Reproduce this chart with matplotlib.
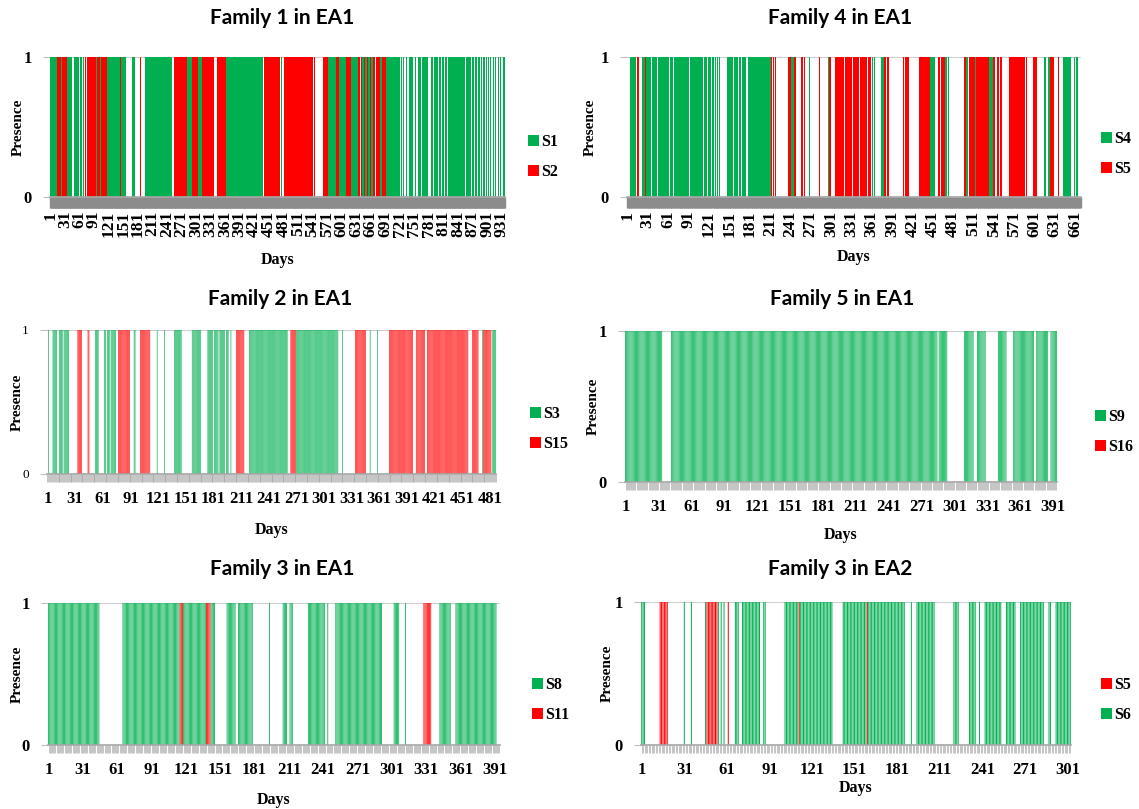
import matplotlib
matplotlib.use("Agg")
import matplotlib.pyplot as plt
from matplotlib.patches import Patch

GREEN = "#00b050"
RED = "#ff0000"
SERIF = "Liberation Serif"

# days (first, last) on which each strain was present

# Family 1 in EA1
f1_days = 937
f1_s1 = [(1, 14), (23, 24), (36, 46), (50, 53), (55, 60), (62, 66), (68, 70), (96, 97),
         (103, 105), (118, 144), (147, 156), (170, 172), (175, 176), (197, 252), (283, 293),
         (305, 312), (364, 380), (383, 438), (476, 478), (574, 588), (597, 610), (620, 626),
         (628, 634), (644, 646), (650, 652), (655, 660), (663, 666), (681, 684), (692, 720),
         (723, 724), (727, 728), (734, 735), (741, 747), (752, 753), (758, 765), (767, 772),
         (774, 779), (786, 789), (791, 794), (796, 800), (802, 806), (808, 812), (814, 818),
         (820, 855), (857, 862), (864, 868), (870, 874), (876, 880), (882, 885), (888, 890),
         (893, 895), (898, 900), (903, 905), (908, 909), (913, 914), (918, 919), (923, 924),
         (928, 929), (933, 936)]
f1_s2 = [(16, 22), (25, 35), (74, 75), (78, 90), (92, 95), (98, 102), (106, 117), (145, 146),
         (186, 187), (256, 282), (293, 304), (313, 337), (344, 363), (381, 382), (442, 474),
         (482, 541), (545, 546), (564, 573), (589, 596), (611, 619), (636, 638), (641, 643),
         (647, 649), (653, 654), (661, 662), (667, 669), (672, 680), (685, 691)]

# Family 4 in EA1
f4_days = 669
f4_s4 = [(5, 13), (23, 27), (29, 32), (34, 36), (38, 44), (46, 54), (56, 62), (64, 68),
         (70, 76), (78, 82), (84, 92), (94, 98), (100, 104), (106, 112), (114, 118), (120, 124),
         (126, 128), (130, 131), (133, 134), (136, 137), (148, 156), (158, 164), (166, 168),
         (170, 175), (180, 212), (243, 246), (269, 269), (297, 298), (362, 363), (365, 365),
         (376, 378), (447, 454), (470, 471), (474, 475), (501, 503), (514, 514), (535, 536),
         (538, 539), (616, 617), (621, 624), (643, 654), (659, 660), (663, 664)]
f4_s5 = [(16, 17), (28, 28), (55, 55), (213, 214), (216, 217), (219, 220), (238, 241),
         (247, 249), (258, 259), (262, 263), (284, 285), (299, 300), (307, 312), (314, 320),
         (322, 332), (334, 342), (344, 354), (356, 360), (380, 382), (384, 386), (407, 408),
         (411, 412), (414, 415), (432, 446), (459, 461), (463, 465), (467, 468), (498, 500),
         (505, 513), (515, 534), (541, 543), (546, 548), (551, 553), (564, 587), (589, 590),
         (599, 604), (625, 629), (636, 637)]

# Family 2 in EA1
f2_days = 487
f2_s3 = [(2, 2), (7, 9), (10, 11), (14, 15), (16, 17), (19, 20), (21, 22), (23, 24), (53, 56),
         (63, 64), (66, 68), (70, 72), (73, 75), (95, 96), (120, 120), (128, 128), (139, 146),
         (158, 167), (175, 180), (182, 186), (188, 193), (195, 197), (200, 200), (220, 261),
         (271, 316), (321, 321), (351, 351), (359, 359), (473, 473), (484, 487)]
f2_s15 = [(34, 38), (45, 46), (78, 90), (102, 112), (206, 214), (265, 270), (335, 346),
          (372, 397), (401, 410), (413, 457), (462, 468), (474, 482)]

# Family 5 in EA1
f5_days = 394
f5_s9 = [(1, 34), (43, 285), (287, 294), (310, 318), (322, 329), (341, 348), (355, 373),
         (376, 386), (389, 394)]
f5_s16 = []

# Family 3 in EA1
f3_days = 395
f3_s8 = [(1, 45), (66, 115), (119, 138), (143, 146), (157, 164), (167, 179), (194, 194),
         (206, 209), (212, 214), (228, 242), (245, 245), (252, 292), (303, 307), (313, 313),
         (343, 352), (357, 392)]
f3_s11 = [(116, 118), (139, 142), (329, 335)]

# Family 3 in EA2
g3_days = 303
g3_s5 = [(14, 19), (47, 54), (62, 62), (112, 112), (160, 160)]
g3_s6 = [(1, 3), (31, 31), (36, 36), (46, 46), (55, 55), (57, 57), (59, 59), (67, 69),
         (72, 84), (87, 88), (102, 111), (113, 135), (143, 159), (161, 186), (191, 191),
         (195, 207), (221, 224), (232, 236), (239, 239), (243, 254), (258, 264), (268, 284),
         (288, 289), (293, 303)]

W, H = 1139, 809
fig = plt.figure(figsize=(W / 100, H / 100), dpi=100)


def fx(x):
    return x / W


def fy(y):
    return 1 - y / H


def expand(runs):
    out = []
    for a, b in runs:
        out.extend(range(a, b + 1))
    return out


def panel(box, n_days, series, names, colors, title, title_xy, rot, bar_w,
          leg_xy, pres_x, days_y, dense, ysize, ybold):
    l, r, t, b = box
    ax = fig.add_axes([fx(l), fy(b), fx(r - l), (b - t) / H])
    for runs, c in zip(series, colors):
        d = expand(runs)
        if d:
            bars = ax.bar(d, [1] * len(d), width=bar_w, color=c, linewidth=0, zorder=2)
            if not dense:
                # thin daily bars: let them blend like the original's light stripes
                for p in bars:
                    p.set_snap(False)
    ax.axhline(1, color="#cfcfcf", lw=1.5, zorder=1)
    ax.set_xlim(0.5, n_days + 0.5)
    ax.set_ylim(0, 1)
    for s in ["left", "top", "right"]:
        ax.spines[s].set_visible(False)
    ax.spines["bottom"].set_color("#a6a6a6")
    ax.spines["bottom"].set_linewidth(1.2)

    ax.set_yticks([0, 1])
    ax.set_yticklabels(["0", "1"], fontfamily=SERIF, fontsize=ysize,
                       fontweight="bold" if ybold else "normal")
    ax.tick_params(axis="y", length=5, color="#bfbfbf", pad=8)

    ticks = list(range(1, n_days + 1, 30))
    ax.set_xticks(ticks)
    ax.set_xticks(range(1, n_days + 1), minor=True)
    ax.set_xticklabels([str(v) for v in ticks], rotation=rot, fontfamily=SERIF,
                       fontsize=12.5 if dense else 12, fontweight="bold")
    if dense:
        ax.tick_params(axis="x", which="both", length=8, width=1.0, color="#8c8c8c", pad=2)
    else:
        ax.tick_params(axis="x", which="both", length=6, width=0.4, color="#9a9a9a", pad=6)

    fig.text(fx(title_xy[0]), fy(title_xy[1]), title, ha="center", va="center",
             fontfamily="Lato", fontweight="bold", fontsize=15)
    fig.text(fx(pres_x), (fy(t) + fy(b)) / 2, "Presence", rotation=90, ha="center",
             va="center", fontfamily=SERIF, fontweight="bold", fontsize=11)
    fig.text(fx((l + r) / 2), fy(days_y), "Days", ha="center", va="center",
             fontfamily=SERIF, fontweight="bold", fontsize=11.5)

    handles = [Patch(facecolor=c, edgecolor="none") for c in colors]
    ax.legend(handles, names, loc="center left", bbox_to_anchor=(fx(leg_xy[0]), fy(leg_xy[1])),
              bbox_transform=fig.transFigure, frameon=False, handlelength=0.7,
              handleheight=0.7, handletextpad=0.15, labelspacing=0.9,
              borderpad=0, borderaxespad=0,
              prop={"family": SERIF, "weight": "bold", "size": 11.5})
    return ax


panel((50, 505, 57, 197), f1_days, [f1_s1, f1_s2], ["S1", "S2"], [GREEN, RED],
      "Family 1 in EA1", (282, 18), 90, 1.0, (528, 157), 18, 260, True, 12, True)
panel((627, 1081, 57, 197), f4_days, [f4_s4, f4_s5], ["S4", "S5"], [GREEN, RED],
      "Family 4 in EA1", (840, 18), 90, 1.0, (1101, 154), 590, 257, True, 12, True)
panel((47, 496, 330, 474), f2_days, [f2_s3, f2_s15], ["S3", "S15"], [GREEN, RED],
      "Family 2 in EA1", (280, 299), 0, 0.7, (530, 429), 17, 530, False, 9.5, False)
panel((625, 1057, 331, 482), f5_days, [f5_s9, f5_s16], ["S9", "S16"], [GREEN, RED],
      "Family 5 in EA1", (842, 299), 0, 0.7, (1095, 432), 593, 535, False, 12, True)
panel((48, 500, 603, 745), f3_days, [f3_s8, f3_s11], ["S8", "S11"], [GREEN, RED],
      "Family 3 in EA1", (282, 569), 0, 0.7, (532, 700), 17, 800, False, 12, True)
panel((641, 1071, 602, 745), g3_days, [g3_s5, g3_s6], ["S5", "S6"], [RED, GREEN],
      "Family 3 in EA2", (840, 569), 0, 0.7, (1101, 700), 607, 788, False, 12, True)

fig.savefig("out.png", dpi=100)
